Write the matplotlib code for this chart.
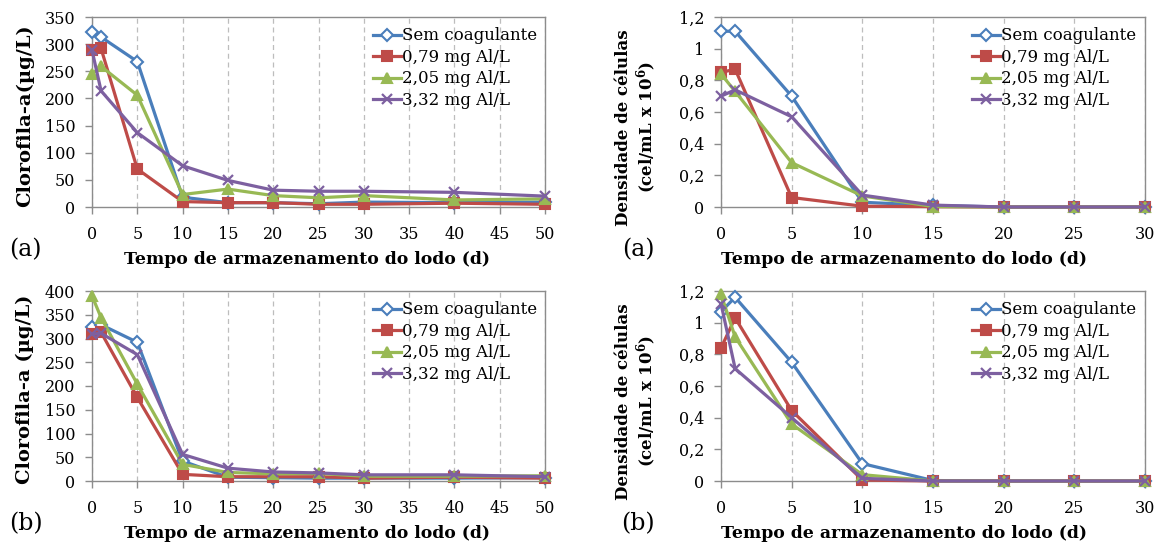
import matplotlib
matplotlib.use("Agg")
import matplotlib.pyplot as plt
from matplotlib.ticker import FuncFormatter, MultipleLocator

plt.rcParams['font.family'] = ['DejaVu Serif']
plt.rcParams['mathtext.fontset'] = 'dejavuserif'

# Storage days
dias_clorofila = [0, 1, 5, 10, 15, 20, 25, 30, 40, 50]
dias_celulas = [0, 1, 5, 10, 15, 20, 25, 30]

series_labels = ["Sem coagulante", "0,79 mg Al/L", "2,05 mg Al/L", "3,32 mg Al/L"]

# (a) chlorophyll-a, ug/L
clor_a_sem = [322, 313, 268, 18, 8, 8, 6, 9, 8, 9]
clor_a_079 = [290, 292, 70, 10, 8, 8, 5, 5, 7, 5]
clor_a_205 = [245, 259, 206, 23, 33, 21, 17, 21, 13, 15]
clor_a_332 = [289, 214, 137, 76, 49, 31, 29, 29, 27, 20]

# (a) cell density, cel/mL x 10^6
cel_a_sem = [1.11, 1.11, 0.70, 0.03, 0.01, 0, 0, 0]
cel_a_079 = [0.85, 0.87, 0.06, 0.005, 0.002, 0, 0, 0]
cel_a_205 = [0.84, 0.73, 0.28, 0.07, 0.003, 0, 0, 0]
cel_a_332 = [0.70, 0.74, 0.57, 0.075, 0.012, 0, 0, 0]

# (b) chlorophyll-a, ug/L
clor_b_sem = [324, 329, 292, 42, 8, 7, 6, 6, 6, 7]
clor_b_079 = [309, 313, 176, 14, 9, 9, 9, 6, 8, 6]
clor_b_205 = [390, 344, 204, 35, 18, 15, 16, 10, 10, 11]
clor_b_332 = [309, 311, 266, 56, 27, 19, 17, 13, 13, 9]

# (b) cell density, cel/mL x 10^6
cel_b_sem = [1.07, 1.16, 0.75, 0.11, 0.003, 0, 0, 0]
cel_b_079 = [0.84, 1.03, 0.445, 0.006, 0, 0, 0, 0]
cel_b_205 = [1.18, 0.91, 0.36, 0.04, 0, 0, 0, 0]
cel_b_332 = [1.12, 0.71, 0.40, 0.017, 0, 0, 0, 0]

colors = ['#4A7EBB', '#BE4B48', '#98B954', '#7D60A0']
markers = ['D', 's', '^', 'x']
face = ['white', '#BE4B48', '#98B954', '#7D60A0']
msizes = [6.5, 7, 7.5, 7.5]

W, H = 1161, 546
fig = plt.figure(figsize=(W / 100, H / 100), dpi=100)


def px_axes(left, top, right, bottom):
    return fig.add_axes([left / W, 1 - bottom / H, (right - left) / W, (bottom - top) / H])


def comma(v, pos):
    return ('%g' % round(v, 2)).replace('.', ',')


spine_c = '#8C8C8C'
xlabel_txt = 'Tempo de armazenamento do lodo (d)'


def panel(ax, x, ys, xmax, ymax, ystep, ylabel, ylab_xy, xlab_x, leg_x, tag, tag_xy):
    for y, c, m, fc, ms, lab in zip(ys, colors, markers, face, msizes, series_labels):
        ax.plot(x, y, color=c, lw=2.3, marker=m, ms=ms, mfc=fc, mec=c,
                mew=1.5 if m != 'x' else 1.6, label=lab, clip_on=False, zorder=3)
    ax.set_xlim(0, xmax)
    ax.set_ylim(0, ymax)
    ax.xaxis.set_major_locator(MultipleLocator(5))
    ax.yaxis.set_major_locator(MultipleLocator(ystep))
    ax.yaxis.set_major_formatter(FuncFormatter(comma))
    ax.grid(axis='x', color='#BDBDBD', ls=(0, (4, 3)), lw=0.9, zorder=0)
    for s in ax.spines.values():
        s.set_color(spine_c)
        s.set_linewidth(1.0)
    ax.tick_params(axis='both', direction='out', length=5, width=1,
                   color=spine_c, labelsize=11.5)
    ax.tick_params(axis='x', pad=9)
    ax.tick_params(axis='y', pad=7)
    ax.set_xlabel(xlabel_txt, fontsize=12.4, fontweight='bold', va='center')
    ax.xaxis.set_label_coords(xlab_x, -0.274)
    ax.set_ylabel(ylabel, fontsize=ylab_xy[2], fontweight='bold', va='center',
                  linespacing=1.15)
    ax.yaxis.set_label_coords(ylab_xy[0], ylab_xy[1])
    ax.legend(loc='upper left', bbox_to_anchor=(leg_x, 0.945), frameon=False,
              fontsize=12, handlelength=1.7, handletextpad=0.05, borderpad=0,
              borderaxespad=0, labelspacing=0.27, numpoints=1)
    fig.text(tag_xy[0] / W, 1 - tag_xy[1] / H, tag, fontsize=17,
             ha='center', va='center')


ax_tl = px_axes(92, 17, 545, 207)
ax_tr = px_axes(721, 17, 1145, 207)
ax_bl = px_axes(92, 291, 545, 481)
ax_br = px_axes(721, 291, 1145, 481)

cel_label = 'Densidade de células\n(cel/mL x 10$^{\\mathbf{6}}$)'

panel(ax_tl, dias_clorofila, [clor_a_sem, clor_a_079, clor_a_205, clor_a_332],
      50, 350, 50, 'Clorofila-a(µg/L)', (-0.148, 0.48, 14), 0.475, 0.62,
      '(a)', (25, 250))
panel(ax_tr, dias_celulas, [cel_a_sem, cel_a_079, cel_a_205, cel_a_332],
      30, 1.2, 0.2, cel_label, (-0.198, 0.42, 12), 0.432, 0.592,
      '(a)', (638, 250))
panel(ax_bl, dias_clorofila, [clor_b_sem, clor_b_079, clor_b_205, clor_b_332],
      50, 400, 50, 'Clorofila-a (µg/L)', (-0.148, 0.48, 14), 0.475, 0.62,
      '(b)', (26, 524))
panel(ax_br, dias_celulas, [cel_b_sem, cel_b_079, cel_b_205, cel_b_332],
      30, 1.2, 0.2, cel_label, (-0.198, 0.42, 12), 0.432, 0.592,
      '(b)', (638, 524))

fig.savefig('out.png', dpi=100)
